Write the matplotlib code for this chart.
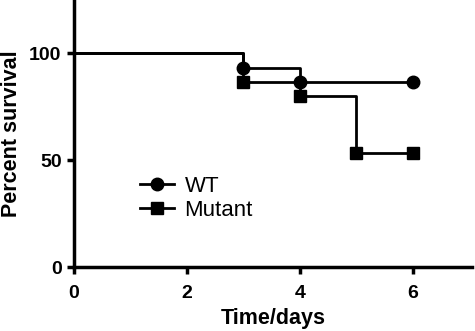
import matplotlib
matplotlib.use("Agg")
import matplotlib.pyplot as plt
from matplotlib.lines import Line2D

plt.rcParams['font.family'] = ['Liberation Sans', 'DejaVu Sans']

wt_t = [0, 3, 4, 6]
wt_s = [100, 93.3, 86.7, 86.7]
mut_t = [0, 3, 4, 5, 6]
mut_s = [100, 86.7, 80, 53.3, 53.3]
xticks = [0, 2, 4, 6]
yticks = [0, 50, 100]

fig = plt.figure(figsize=(4.75, 3.31), dpi=100)
ax = fig.add_axes([0.156, 0.193, 0.838, 0.807])

lw = 2
ms = 9
ax.step(wt_t, wt_s, where='post', color='black', lw=lw)
ax.plot(wt_t[1:], wt_s[1:], 'o', color='black', ms=ms)
ax.step(mut_t, mut_s, where='post', color='black', lw=lw)
ax.plot(mut_t[1:], mut_s[1:], 's', color='black', ms=ms)

h = [Line2D([], [], color='black', lw=lw, marker='o', ms=ms),
     Line2D([], [], color='black', lw=lw, marker='s', ms=ms)]
ax.legend(h, ['WT', 'Mutant'], loc='center left', bbox_to_anchor=(0.166, 0.258),
          frameon=False, fontsize=16, handlelength=1.5, handletextpad=0.5,
          labelspacing=0.15, borderpad=0, borderaxespad=0)

ax.set_xlim(0, 7.05)
ax.set_ylim(0, 125)
ax.set_xticks(xticks)
ax.set_yticks(yticks)
for s in ['top', 'right']:
    ax.spines[s].set_visible(False)
for s in ['left', 'bottom']:
    ax.spines[s].set_linewidth(2.5)
ax.tick_params(width=2.5, length=5, labelsize=14, pad=4)
ax.tick_params(axis='x', pad=8)
for lab in ax.get_xticklabels() + ax.get_yticklabels():
    lab.set_fontweight('bold')
ax.set_xlabel('Time/days', fontsize=15.5, fontweight='bold', labelpad=4)
ax.set_ylabel('Percent survival', fontsize=15.5, fontweight='bold', labelpad=5)

fig.savefig('out.png', dpi=100)
